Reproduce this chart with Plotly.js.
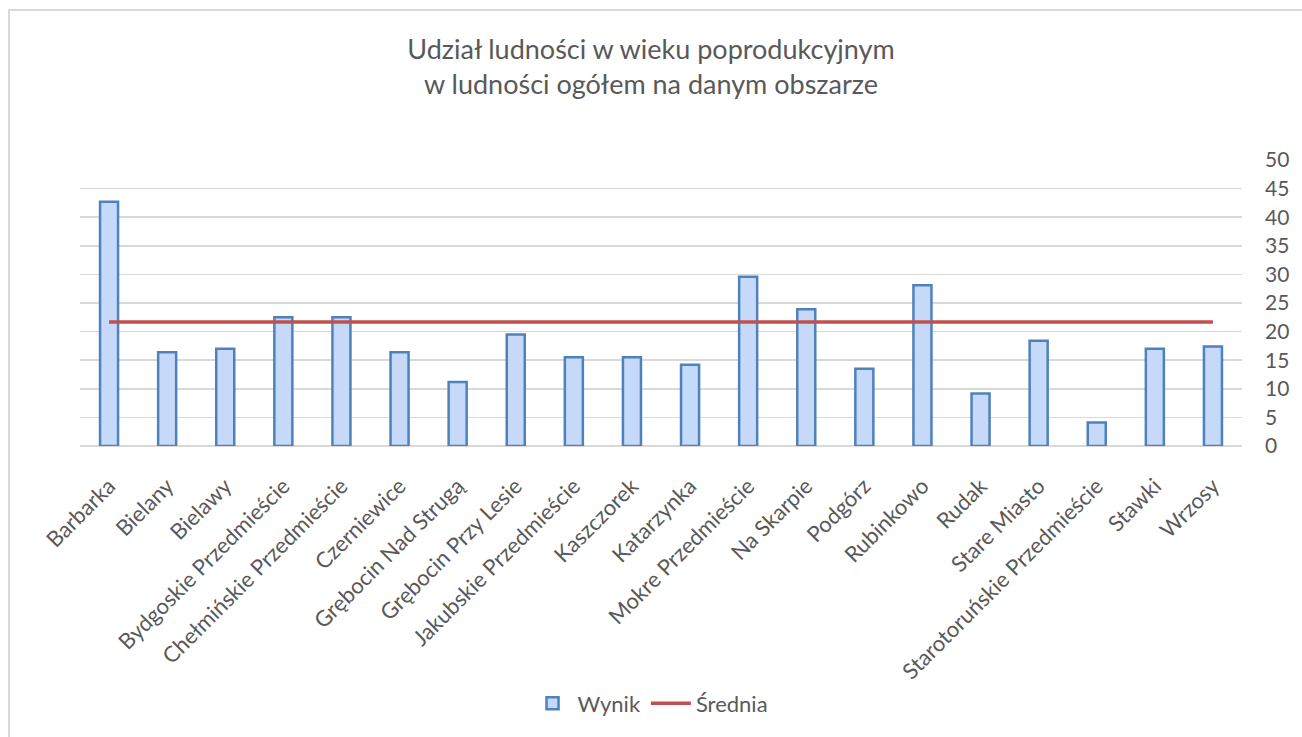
<!DOCTYPE html>
<html>
<head>
<meta charset="utf-8">
<script src="https://cdn.plot.ly/plotly-3.0.1.min.js"></script>
<style>
  html, body { margin: 0; padding: 0; background: #ffffff; }
  #wrap { position: relative; width: 1302px; height: 737px; overflow: hidden; }
  #chart { position: absolute; left: 0; top: 0; width: 1302px; height: 737px; }
  #frame { position: absolute; left: 8px; top: 9px; width: 1400px; height: 900px;
           border-left: 2px solid #d9d9d9; border-top: 2px solid #d9d9d9; pointer-events: none; }
</style>
</head>
<body>
<div id="wrap">
  <div id="chart"></div>
  <div id="frame"></div>
</div>
<script>
const categories = [
  "Barbarka", "Bielany", "Bielawy", "Bydgoskie Przedmieście", "Chełmińskie Przedmieście",
  "Czerniewice", "Grębocin Nad Strugą", "Grębocin Przy Lesie", "Jakubskie Przedmieście",
  "Kaszczorek", "Katarzynka", "Mokre Przedmieście", "Na Skarpie", "Podgórz", "Rubinkowo",
  "Rudak", "Stare Miasto", "Starotoruńskie Przedmieście", "Stawki", "Wrzosy"
];
const wynik = [42.7, 16.4, 17.0, 22.5, 22.5, 16.4, 11.2, 19.5, 15.5, 15.5,
               14.2, 29.6, 23.9, 13.5, 28.1, 9.2, 18.4, 4.1, 17.0, 17.4];
const srednia = [21.7, 21.7, 21.7, 21.7, 21.7, 21.7, 21.7, 21.7, 21.7, 21.7,
                 21.7, 21.7, 21.7, 21.7, 21.7, 21.7, 21.7, 21.7, 21.7, 21.7];
const yTicks = [0, 5, 10, 15, 20, 25, 30, 35, 40, 45, 50];
const seriesNames = ["Wynik", "Średnia"];
const titleText = "Udział ludności w wieku poprodukcyjnym<br>w ludności ogółem na danym obszarze";

const FONT = "Lato, 'Open Sans', sans-serif";
const GREY = "#595959";

const traces = [
  {
    type: "bar",
    name: seriesNames[0],
    x: categories,
    y: wynik,
    width: 0.31,
    marker: { color: "#c6d9f8", line: { color: "#4f81bd", width: 2.5 } },
    hoverinfo: "x+y"
  },
  {
    type: "scatter",
    mode: "lines",
    name: seriesNames[1],
    x: categories,
    y: srednia,
    line: { color: "#c0504d", width: 3.5 },
    hoverinfo: "x+y"
  }
];

const layout = {
  width: 1302,
  height: 737,
  paper_bgcolor: "#ffffff",
  plot_bgcolor: "#ffffff",
  margin: { l: 80, r: 60, t: 160, b: 291 },
  font: { family: FONT, color: GREY, size: 19 },
  title: {
    text: titleText,
    font: { family: FONT, size: 27, color: GREY },
    x: 0.5, xanchor: "center",
    y: 0.92, yanchor: "middle"
  },
  showlegend: true,
  legend: {
    orientation: "h",
    x: 0.491, xanchor: "center",
    y: -0.9, yanchor: "middle",
    font: { family: FONT, size: 22, color: GREY },
    itemwidth: 40,
    traceorder: "normal"
  },
  xaxis: {
    type: "category",
    tickangle: -45,
    tickfont: { family: FONT, size: 22, color: GREY },
    showgrid: false,
    showline: false,
    ticks: "",
    zeroline: false,
    ticklabelstandoff: 22
  },
  yaxis: {
    side: "right",
    range: [0, 50],
    tickvals: yTicks,
    ticktext: yTicks.map(String),
    tickfont: { family: FONT, size: 21, color: GREY },
    showgrid: true,
    gridcolor: "#d9d9d9",
    gridwidth: 1.5,
    zeroline: true,
    zerolinecolor: "#d9d9d9",
    zerolinewidth: 1.5,
    showline: false,
    ticks: "",
    ticklabelstandoff: 22
  },
  bargap: 0.69
};

Plotly.newPlot("chart", traces, layout, { displayModeBar: false, staticPlot: true });
</script>
</body>
</html>
